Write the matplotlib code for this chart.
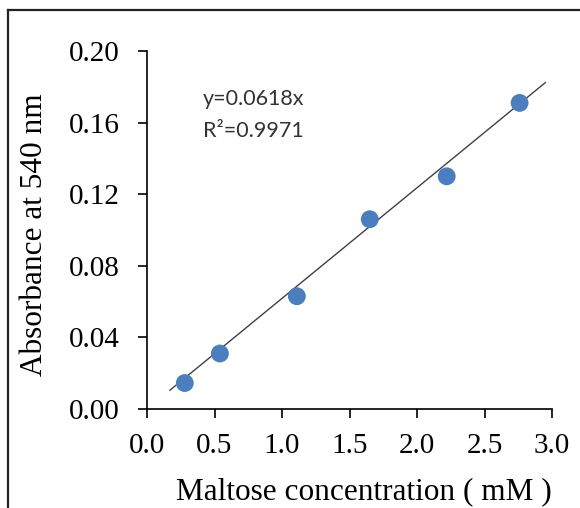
import numpy as np
import matplotlib
matplotlib.use("Agg")
import matplotlib.pyplot as plt
from matplotlib.lines import Line2D

# standard curve data
maltose_mM = [0.28, 0.54, 1.11, 1.65, 2.22, 2.76]
absorbance = [0.0145, 0.031, 0.063, 0.106, 0.130, 0.171]
slope = 0.0618
r2 = 0.9971
fit_range = [0.17, 2.95]

xticks = [0.0, 0.5, 1.0, 1.5, 2.0, 2.5, 3.0]
yticks = [0.00, 0.04, 0.08, 0.12, 0.16, 0.20]

W, H = 580, 508
fig = plt.figure(figsize=(W / 100, H / 100), dpi=100, facecolor="w")
ax = fig.add_axes([147 / W, 1 - 409 / H, (552 - 147) / W, (409 - 51) / H])

serif = "Liberation Serif"

# trendline through origin
xf = np.array(fit_range)
ax.plot(xf, slope * xf, color="#404040", lw=1.0, zorder=2)
ax.scatter(maltose_mM, absorbance, s=165, color="#4a7ebf", edgecolors="none", zorder=3)

ax.set_xlim(0, 3.0)
ax.set_ylim(0, 0.20)
ax.set_xticks(xticks)
ax.set_yticks(yticks)
ax.set_xticklabels(["%.1f" % v for v in xticks], family=serif, fontsize=21)
ax.set_yticklabels(["%.2f" % v for v in yticks], family=serif, fontsize=21)

for s in ["top", "right"]:
    ax.spines[s].set_visible(False)
for s in ["left", "bottom"]:
    ax.spines[s].set_linewidth(1.2)
    ax.spines[s].set_color("black")
ax.tick_params(axis="both", direction="out", length=6.5, width=1.2, color="black")
ax.tick_params(axis="y", pad=13)
ax.tick_params(axis="x", pad=11)

ax.set_xlabel("Maltose concentration ( mM )", family=serif, fontsize=22.5, va="center")
ax.xaxis.set_label_coords(0.536, -0.232)
ax.set_ylabel("Absorbance at 540 nm", family=serif, fontsize=22.5, va="center")
ax.yaxis.set_label_coords(-0.277, 0.486)

ax.text(0.138, 0.866, "y=0.0618x", transform=ax.transAxes, family="Lato",
        fontsize=15.5, color="#333333", va="center", ha="left")
ax.text(0.138, 0.777, "R\u00b2=%.4f" % r2, transform=ax.transAxes, family="Lato",
        fontsize=15.5, color="#333333", va="center", ha="left")

# outer frame (cropped on the right and bottom)
fig.add_artist(Line2D([8 / W, 8 / W], [0, 1 - 10 / H], color="#222222", lw=1.6,
                      transform=fig.transFigure))
fig.add_artist(Line2D([8 / W, 1], [1 - 10 / H, 1 - 10 / H], color="#222222", lw=1.6,
                      transform=fig.transFigure))

fig.savefig("out.png", dpi=100, facecolor="w")
